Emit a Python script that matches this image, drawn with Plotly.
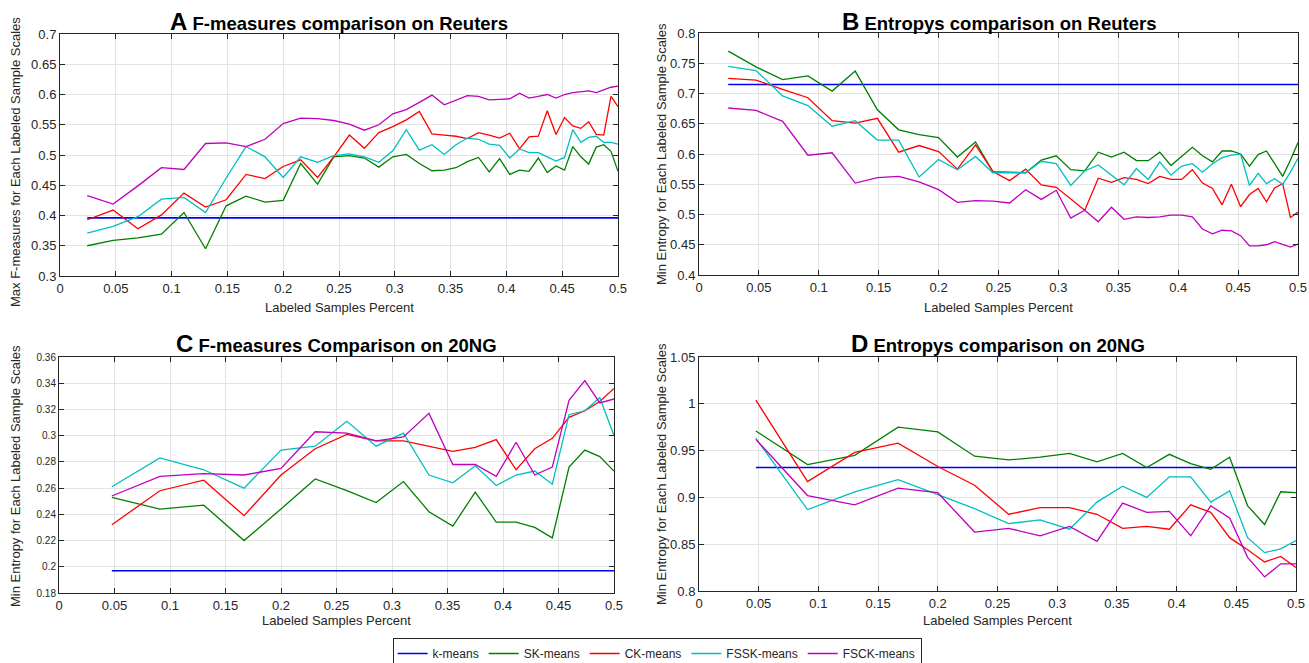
import plotly.graph_objects as go

# ---------------- data ----------------
x40 = [0.0244, 0.0476, 0.0698, 0.0909, 0.1111, 0.1304, 0.1489, 0.1667, 0.1837, 0.2000,
       0.2157, 0.2308, 0.2453, 0.2593, 0.2727, 0.2857, 0.2982, 0.3103, 0.3220, 0.3333,
       0.3443, 0.3548, 0.3651, 0.3750, 0.3846, 0.3939, 0.4030, 0.4118, 0.4203, 0.4286,
       0.4366, 0.4444, 0.4521, 0.4595, 0.4667, 0.4737, 0.4805, 0.4872, 0.4937, 0.5000]
x20 = [0.0476, 0.0909, 0.1304, 0.1667, 0.2000, 0.2308, 0.2593, 0.2857, 0.3103, 0.3333,
       0.3548, 0.3750, 0.3939, 0.4118, 0.4286, 0.4444, 0.4595, 0.4737, 0.4872, 0.5000]

series_names = ["k-means", "SK-means", "CK-means", "FSSK-means", "FSCK-means"]

# Panel A: Max F-measures, Reuters
kmeans_A = 0.396
sk_A = [0.350, 0.359, 0.363, 0.369, 0.405, 0.345, 0.416, 0.432, 0.422, 0.425, 0.486, 0.452,
        0.497, 0.499, 0.495, 0.480, 0.497, 0.501, 0.486, 0.474, 0.475, 0.479,
        0.489, 0.496, 0.472, 0.494, 0.468, 0.475, 0.473, 0.495, 0.471, 0.482,
        0.475, 0.514, 0.497, 0.485, 0.513, 0.517, 0.506, 0.473]
ck_A = [0.393, 0.409, 0.378, 0.401, 0.437, 0.414, 0.426, 0.468, 0.461, 0.481, 0.492, 0.463,
        0.497, 0.533, 0.511, 0.537, 0.547, 0.558, 0.572, 0.535, 0.533, 0.531,
        0.527, 0.537, 0.533, 0.528, 0.536, 0.510, 0.530, 0.531, 0.573, 0.534,
        0.562, 0.548, 0.544, 0.555, 0.534, 0.533, 0.597, 0.580]
fssk_A = [0.371, 0.382, 0.398, 0.427, 0.430, 0.405, 0.462, 0.514, 0.497, 0.463, 0.497, 0.488,
          0.499, 0.502, 0.497, 0.488, 0.507, 0.542, 0.508, 0.517, 0.501, 0.517,
          0.528, 0.526, 0.518, 0.516, 0.495, 0.510, 0.504, 0.504, 0.497, 0.490,
          0.496, 0.542, 0.521, 0.529, 0.531, 0.521, 0.521, 0.518]
fsck_A = [0.433, 0.419, 0.449, 0.479, 0.476, 0.519, 0.520, 0.514, 0.526, 0.552, 0.561, 0.560,
          0.557, 0.551, 0.541, 0.550, 0.568, 0.575, 0.587, 0.599, 0.583, 0.590,
          0.598, 0.597, 0.591, 0.592, 0.593, 0.602, 0.594, 0.597, 0.600, 0.594,
          0.600, 0.603, 0.605, 0.606, 0.603, 0.608, 0.612, 0.614]

# Panel B: Min Entropy, Reuters
kmeans_B = 0.715
sk_B = [0.770, 0.744, 0.723, 0.729, 0.704, 0.737, 0.673, 0.640, 0.632, 0.627, 0.595, 0.620,
        0.571, 0.570, 0.569, 0.590, 0.597, 0.574, 0.572, 0.603, 0.595, 0.603,
        0.589, 0.589, 0.603, 0.581, 0.596, 0.611, 0.597, 0.587, 0.605, 0.605,
        0.600, 0.580, 0.599, 0.605, 0.584, 0.563, 0.590, 0.619]
ck_B = [0.725, 0.722, 0.707, 0.693, 0.655, 0.651, 0.659, 0.603, 0.614, 0.604, 0.575, 0.615,
        0.571, 0.556, 0.575, 0.549, 0.545, 0.525, 0.507, 0.560, 0.553, 0.561,
        0.558, 0.551, 0.563, 0.558, 0.558, 0.574, 0.552, 0.543, 0.516, 0.550,
        0.513, 0.533, 0.543, 0.521, 0.544, 0.551, 0.495, 0.504]
fssk_B = [0.745, 0.738, 0.696, 0.680, 0.646, 0.655, 0.623, 0.623, 0.562, 0.591, 0.574, 0.596,
          0.569, 0.569, 0.569, 0.588, 0.584, 0.548, 0.572, 0.582, 0.565, 0.549,
          0.576, 0.558, 0.587, 0.565, 0.580, 0.584, 0.570, 0.584, 0.594, 0.598,
          0.600, 0.548, 0.568, 0.551, 0.559, 0.550, 0.570, 0.593]
fsck_B = [0.676, 0.672, 0.654, 0.598, 0.602, 0.552, 0.561, 0.563, 0.554, 0.541, 0.520, 0.523,
          0.522, 0.519, 0.541, 0.525, 0.540, 0.494, 0.507, 0.488, 0.512, 0.492,
          0.496, 0.495, 0.496, 0.499, 0.499, 0.496, 0.476, 0.468, 0.474, 0.473,
          0.465, 0.448, 0.448, 0.450, 0.455, 0.450, 0.446, 0.451]

# Panel C: F-measures, 20NG
kmeans_C = 0.197
sk_C = [0.253, 0.244, 0.247, 0.220, 0.244, 0.267, 0.258, 0.249, 0.265, 0.242,
        0.231, 0.257, 0.234, 0.234, 0.230, 0.222, 0.276, 0.289, 0.284, 0.273]
ck_C = [0.232, 0.258, 0.266, 0.239, 0.270, 0.290, 0.301, 0.296, 0.296, 0.292,
        0.288, 0.291, 0.297, 0.274, 0.290, 0.298, 0.314, 0.319, 0.326, 0.336]
fssk_C = [0.261, 0.283, 0.274, 0.260, 0.289, 0.292, 0.311, 0.292, 0.302, 0.270,
          0.264, 0.277, 0.262, 0.270, 0.273, 0.263, 0.316, 0.319, 0.329, 0.300]
fsck_C = [0.254, 0.269, 0.271, 0.270, 0.275, 0.303, 0.302, 0.296, 0.299, 0.317,
          0.278, 0.278, 0.269, 0.295, 0.270, 0.276, 0.327, 0.342, 0.325, 0.328]

# Panel D: Entropy, 20NG
kmeans_D = 0.932
sk_D = [0.971, 0.935, 0.945, 0.975, 0.970, 0.944, 0.940, 0.943, 0.947, 0.938,
        0.947, 0.932, 0.946, 0.936, 0.930, 0.943, 0.891, 0.871, 0.906, 0.905]
ck_D = [1.004, 0.917, 0.948, 0.958, 0.933, 0.913, 0.882, 0.889, 0.889, 0.882,
        0.867, 0.869, 0.866, 0.892, 0.884, 0.857, 0.844, 0.831, 0.837, 0.825]
fssk_D = [0.963, 0.887, 0.906, 0.919, 0.903, 0.888, 0.872, 0.876, 0.866, 0.895,
          0.912, 0.900, 0.922, 0.922, 0.895, 0.907, 0.857, 0.841, 0.845, 0.854]
fsck_D = [0.962, 0.902, 0.892, 0.910, 0.905, 0.863, 0.867, 0.859, 0.869, 0.853,
          0.894, 0.884, 0.885, 0.859, 0.891, 0.878, 0.836, 0.815, 0.829, 0.829]

x_ticks = [0, 0.05, 0.1, 0.15, 0.2, 0.25, 0.3, 0.35, 0.4, 0.45, 0.5]
x_ticktext = ["0", "0.05", "0.1", "0.15", "0.2", "0.25", "0.3", "0.35", "0.4", "0.45", "0.5"]

titles = [("A", "F-measures comparison on Reuters"),
          ("B", "Entropys comparison on Reuters"),
          ("C", "F-measures Comparison on 20NG"),
          ("D", "Entropys comparison on 20NG")]
xlabel = "Labeled Samples Percent"
ylabels = ["Max F-measures for Each Labeled Sample Scales",
           "Min Entropy for Each Labeled Sample Scales",
           "Min Entropy for Each Labeled Sample Scales",
           "Min Entropy for Each Labeled Sample Scales"]

# ---------------- styling ----------------
colors = ["#0000FF", "#008000", "#FF0000", "#00BFBF", "#BF00BF"]
W, H = 1309, 663
FONT = "Liberation Sans, Arial, sans-serif"

# panel pixel boxes: (left, right, top, bottom)
boxes = [(60, 618, 34, 276), (699, 1298, 33, 275), (59, 614, 357, 593), (699, 1296, 357, 591)]
yranges = [(0.3, 0.7, 0.05), (0.4, 0.8, 0.05), (0.18, 0.36, 0.02), (0.8, 1.05, 0.05)]
ytick_size = [13, 13, 10, 13]

panels = [
    (x40, kmeans_A, [sk_A, ck_A, fssk_A, fsck_A]),
    (x40, kmeans_B, [sk_B, ck_B, fssk_B, fsck_B]),
    (x20, kmeans_C, [sk_C, ck_C, fssk_C, fsck_C]),
    (x20, kmeans_D, [sk_D, ck_D, fssk_D, fsck_D]),
]

fig = go.Figure()
layout = dict(width=W, height=H, autosize=False,
              margin=dict(l=0, r=0, t=0, b=0, pad=0, autoexpand=False),
              paper_bgcolor="white", plot_bgcolor="white",
              font=dict(family=FONT, size=13, color="#262626"))
annotations = []

for i, (xs, km, others) in enumerate(panels):
    n = i + 1
    xa = "x" if n == 1 else f"x{n}"
    ya = "y" if n == 1 else f"y{n}"
    l, r, t, b = boxes[i]
    xd = [l / W, r / W]
    yd = [1 - b / H, 1 - t / H]
    ymin, ymax, dy = yranges[i]
    axis_common = dict(showline=True, linecolor="#262626", linewidth=1, mirror="ticks",
                       ticks="inside", ticklen=5, tickcolor="#262626", tickwidth=1,
                       showgrid=True, gridcolor="#E3E3E3", gridwidth=1, zeroline=False,
                       automargin=False)
    layout["xaxis" if n == 1 else f"xaxis{n}"] = dict(
        domain=xd, range=[0, 0.5], tickvals=x_ticks, ticktext=x_ticktext,
        anchor=ya, tickfont=dict(size=13, color="#262626"), **axis_common)
    yt = []
    v = ymin
    while v <= ymax + 1e-9:
        yt.append(round(v, 4))
        v += dy
    layout["yaxis" if n == 1 else f"yaxis{n}"] = dict(
        domain=yd, range=[ymin, ymax], tickvals=yt,
        ticktext=[("%g" % t_) for t_ in yt],
        anchor=xa, tickfont=dict(size=ytick_size[i], color="#262626"), **axis_common)

    ys_all = [[km] * len(xs)] + others
    for j, ys in enumerate(ys_all):
        fig.add_trace(go.Scatter(
            x=xs, y=ys, mode="lines", name=series_names[j],
            line=dict(color=colors[j], width=1.6 if j == 0 else 1.3),
            legendgroup=series_names[j], showlegend=(i == 0),
            xaxis=xa, yaxis=ya, hoverinfo="skip"))

    cx = (l + r) / 2 / W
    # panel title
    letter, ttl = titles[i]
    ty = 21 if i < 2 else 343
    annotations.append(dict(
        x=cx, y=1 - ty / H, xref="paper", yref="paper", xanchor="center", yanchor="middle",
        showarrow=False,
        text=f"<b><span style='font-size:24px'>{letter}</span> {ttl}</b>",
        font=dict(family=FONT, size=18.5, color="black")))
    # x label
    xy = 307 if i < 2 else 620
    annotations.append(dict(
        x=cx, y=1 - xy / H, xref="paper", yref="paper", xanchor="center", yanchor="middle",
        showarrow=False, text=xlabel, font=dict(family=FONT, size=13, color="#262626")))
    # y label
    lx = 15 if i % 2 == 0 else 661
    ly = [162, 154, 476, 474][i]
    annotations.append(dict(
        x=lx / W, y=1 - ly / H, xref="paper", yref="paper", xanchor="center", yanchor="middle",
        showarrow=False, textangle=-90, text=ylabels[i],
        font=dict(family=FONT, size=13, color="#262626")))

layout["annotations"] = annotations
# legend box near the bottom edge, slightly running off it as in the reference
layout["legend"] = dict(orientation="h", x=0.502, xanchor="center", y=1 - 638 / H, yanchor="top",
                        bordercolor="#262626", borderwidth=1, bgcolor="white",
                        font=dict(family=FONT, size=12, color="#262626"),
                        itemwidth=30, tracegroupgap=0, itemclick=False)
fig.update_layout(**layout)
fig.write_html("out.html", config={"displayModeBar": False, "responsive": False})

# remove default page margins so the figure sits at the window origin
with open("out.html", "r", encoding="utf-8") as f:
    html = f.read()
html = html.replace("<head>", "<head><style>html,body{margin:0;padding:0;overflow:hidden;}</style>", 1)
with open("out.html", "w", encoding="utf-8") as f:
    f.write(html)
